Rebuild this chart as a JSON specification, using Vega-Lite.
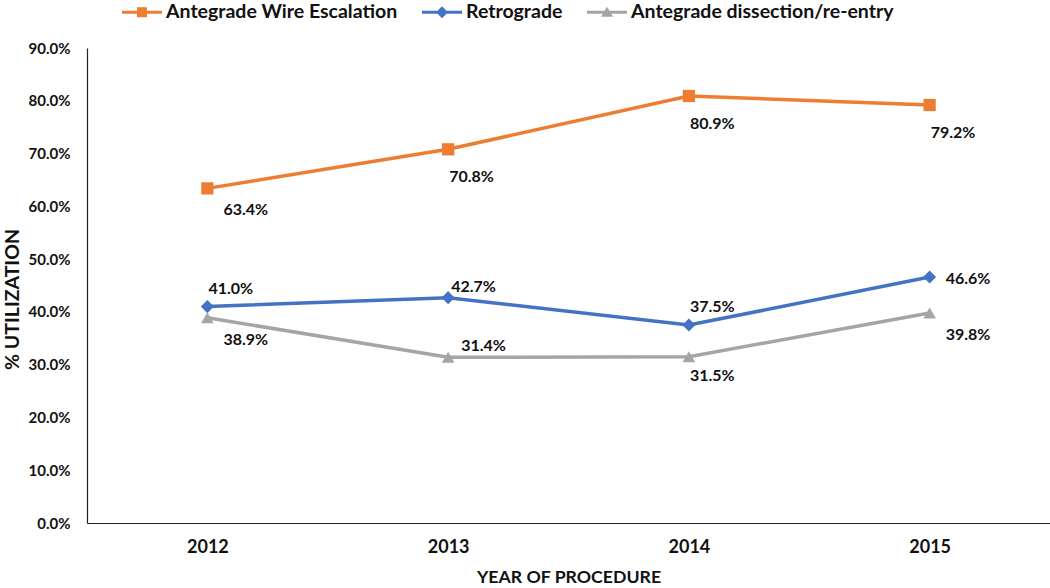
{
  "$schema": "https://vega.github.io/schema/vega-lite/v6.json",
  "width": 963,
  "height": 475,
  "autosize": {"type": "none"},
  "padding": {"left": 87, "top": 48, "right": 0, "bottom": 65},
  "background": "white",
  "config": {
    "view": {"stroke": null},
    "font": "Lato",
    "axis": {"labelFont": "Lato", "titleFont": "Lato", "labelFontWeight": "bold", "titleFontWeight": "bold", "labelColor": "#111", "titleColor": "#111", "domainColor": "#222", "domainWidth": 1.2, "ticks": false, "grid": false}
  },
  "data": {"values": [
    {"year": "2012", "series": "Antegrade Wire Escalation", "value": 0.634},
    {"year": "2013", "series": "Antegrade Wire Escalation", "value": 0.708},
    {"year": "2014", "series": "Antegrade Wire Escalation", "value": 0.809},
    {"year": "2015", "series": "Antegrade Wire Escalation", "value": 0.792},
    {"year": "2012", "series": "Retrograde", "value": 0.410},
    {"year": "2013", "series": "Retrograde", "value": 0.427},
    {"year": "2014", "series": "Retrograde", "value": 0.375},
    {"year": "2015", "series": "Retrograde", "value": 0.466},
    {"year": "2012", "series": "Antegrade dissection/re-entry", "value": 0.389},
    {"year": "2013", "series": "Antegrade dissection/re-entry", "value": 0.314},
    {"year": "2014", "series": "Antegrade dissection/re-entry", "value": 0.315},
    {"year": "2015", "series": "Antegrade dissection/re-entry", "value": 0.398}
  ]},
  "encoding": {
    "x": {"field": "year", "type": "ordinal", "scale": {"type": "point", "padding": 0.5},
      "axis": {"title": "YEAR OF PROCEDURE", "labelAngle": 0, "labelFontSize": 18, "labelPadding": 15, "titleFontSize": 17.7, "titlePadding": 12}},
    "y": {"field": "value", "type": "quantitative", "scale": {"domain": [0, 0.9], "nice": false},
      "axis": {"title": "% UTILIZATION", "values": [0, 0.1, 0.2, 0.3, 0.4, 0.5, 0.6, 0.7, 0.8, 0.9], "format": ".1%", "labelFontSize": 15, "labelPadding": 17, "titleFontSize": 19.5, "titlePadding": 6, "titleY": 251}}
  },
  "layer": [
    {
      "mark": {"type": "line", "strokeWidth": 3.5},
      "encoding": {
        "color": {"field": "series", "type": "nominal",
          "scale": {"domain": ["Antegrade Wire Escalation", "Retrograde", "Antegrade dissection/re-entry"], "range": ["#ED7D31", "#4472C4", "#A5A5A5"]},
          "legend": {"title": null, "orient": "none", "direction": "horizontal", "legendX": 35, "legendY": -56, "padding": 0,
            "symbolSize": 1600, "labelFontSize": 19.5, "labelFont": "Lato", "labelFontWeight": "bold", "labelColor": "#111", "labelOffset": 4, "columnPadding": 24, "labelLimit": 400,
            "encode": {"symbols": {"update": {
              "shape": {"signal": "datum.value === 'Antegrade Wire Escalation' ? 'M-1,-0.075H1V0.075H-1Z M-0.25,-0.25H0.25V0.25H-0.25Z' : datum.value === 'Retrograde' ? 'M-1,-0.075H1V0.075H-1Z M0,-0.3L0.3,0L0,0.3L-0.3,0Z' : 'M-1,-0.075H1V0.075H-1Z M0,-0.28L0.3,0.22H-0.3Z'"},
              "fill": {"scale": "color", "field": "value"},
              "stroke": {"value": "transparent"},
              "strokeWidth": {"value": 0},
              "opacity": {"value": 1}
            }}}
          }
        }
      }
    },
    {
      "transform": [{"filter": "datum.series === 'Antegrade Wire Escalation'"}],
      "mark": {"type": "point", "filled": true, "size": 150, "opacity": 1, "shape": "square", "color": "#ED7D31"},
      "encoding": {}
    },
    {
      "transform": [{"filter": "datum.series === 'Retrograde'"}],
      "mark": {"type": "point", "filled": true, "size": 170, "opacity": 1, "shape": "diamond", "color": "#4472C4"},
      "encoding": {}
    },
    {
      "transform": [{"filter": "datum.series === 'Antegrade dissection/re-entry'"}],
      "mark": {"type": "point", "filled": true, "size": 160, "opacity": 1, "shape": "triangle-up", "color": "#A5A5A5"},
      "encoding": {}
    },
    {
      "transform": [{"filter": "datum.series === 'Antegrade Wire Escalation' && datum.year !== '2012'"}],
      "mark": {"type": "text", "align": "left", "baseline": "middle", "dx": 1, "dy": 28, "font": "Lato", "fontWeight": "bold", "fontSize": 16, "color": "#111"},
      "encoding": {"text": {"field": "value", "type": "quantitative", "format": ".1%"}}
    },
    {
      "transform": [{"filter": "(datum.series === 'Antegrade Wire Escalation' && datum.year === '2012') || (datum.series === 'Antegrade dissection/re-entry' && (datum.year === '2012' || datum.year === '2015'))"}],
      "mark": {"type": "text", "align": "left", "baseline": "middle", "dx": 16, "dy": 22, "font": "Lato", "fontWeight": "bold", "fontSize": 16, "color": "#111"},
      "encoding": {"text": {"field": "value", "type": "quantitative", "format": ".1%"}}
    },
    {
      "transform": [{"filter": "datum.series === 'Retrograde' && (datum.year === '2012' || datum.year === '2014')"}],
      "mark": {"type": "text", "align": "left", "baseline": "middle", "dx": 1, "dy": -18, "font": "Lato", "fontWeight": "bold", "fontSize": 16, "color": "#111"},
      "encoding": {"text": {"field": "value", "type": "quantitative", "format": ".1%"}}
    },
    {
      "transform": [{"filter": "datum.series === 'Retrograde' && datum.year === '2013'"}],
      "mark": {"type": "text", "align": "left", "baseline": "middle", "dx": 3, "dy": -11, "font": "Lato", "fontWeight": "bold", "fontSize": 16, "color": "#111"},
      "encoding": {"text": {"field": "value", "type": "quantitative", "format": ".1%"}}
    },
    {
      "transform": [{"filter": "datum.series === 'Retrograde' && datum.year === '2015'"}],
      "mark": {"type": "text", "align": "left", "baseline": "middle", "dx": 16, "dy": 2, "font": "Lato", "fontWeight": "bold", "fontSize": 16, "color": "#111"},
      "encoding": {"text": {"field": "value", "type": "quantitative", "format": ".1%"}}
    },
    {
      "transform": [{"filter": "datum.series === 'Antegrade dissection/re-entry' && datum.year === '2013'"}],
      "mark": {"type": "text", "align": "left", "baseline": "middle", "dx": 13, "dy": -11, "font": "Lato", "fontWeight": "bold", "fontSize": 16, "color": "#111"},
      "encoding": {"text": {"field": "value", "type": "quantitative", "format": ".1%"}}
    },
    {
      "transform": [{"filter": "datum.series === 'Antegrade dissection/re-entry' && datum.year === '2014'"}],
      "mark": {"type": "text", "align": "left", "baseline": "middle", "dx": 1, "dy": 19, "font": "Lato", "fontWeight": "bold", "fontSize": 16, "color": "#111"},
      "encoding": {"text": {"field": "value", "type": "quantitative", "format": ".1%"}}
    }
  ]
}
